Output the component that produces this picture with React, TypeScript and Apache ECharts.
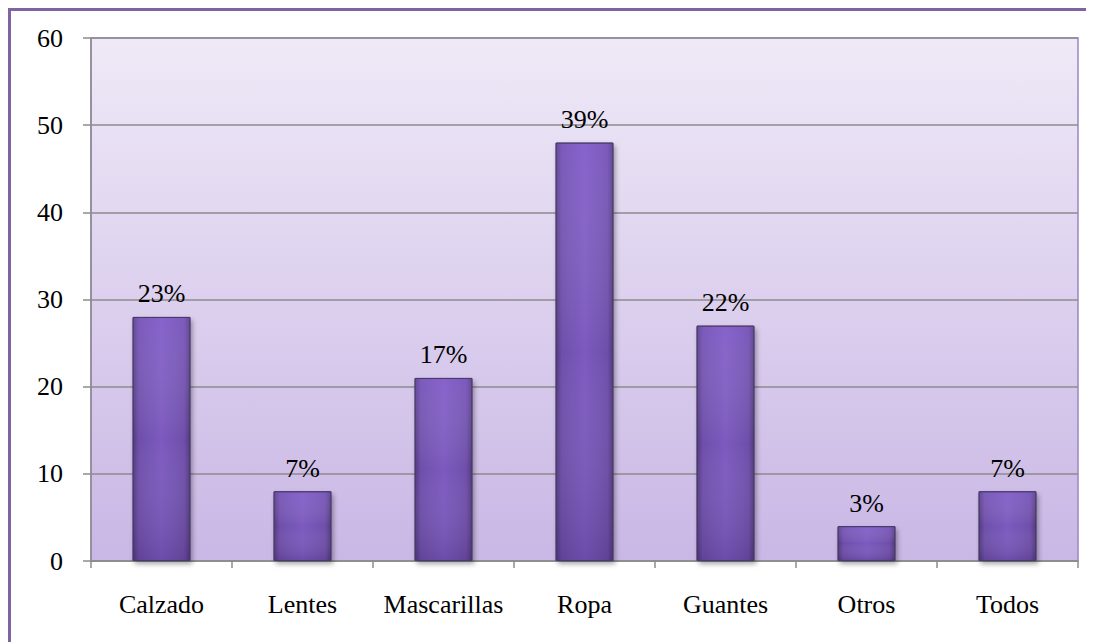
import React, { useEffect, useRef } from "react";
import * as echarts from "echarts";

const categories = ["Calzado", "Lentes", "Mascarillas", "Ropa", "Guantes", "Otros", "Todos"];
const values = [28, 8, 21, 48, 27, 4, 8];
const percentLabels = ["23%", "7%", "17%", "39%", "22%", "3%", "7%"];
const yMin = 0;
const yMax = 60;
const yInterval = 10;

export default function App() {
  const ref = useRef<HTMLDivElement>(null);

  useEffect(() => {
    document.documentElement.style.overflow = "hidden";
    document.body.style.overflow = "hidden";
    if (!ref.current) return;
    const chart = echarts.init(ref.current, undefined, { renderer: "svg" });
    const font = "Liberation Serif";
    chart.setOption({
      animation: false,
      backgroundColor: "#ffffff",
      textStyle: { fontFamily: font },
      grid: {
        left: 83,
        top: 30,
        right: 30,
        bottom: 81,
        show: true,
        borderColor: "#9A86C2",
        borderWidth: 1.5,
        backgroundColor: new echarts.graphic.LinearGradient(0, 0, 0, 1, [
          { offset: 0, color: "#EFE9F7" },
          { offset: 1, color: "#C9B7E5" },
        ]),
      },
      graphic: [
        {
          type: "rect",
          silent: true,
          shape: { x: 1.5, y: 1.5, width: 3000, height: 3000 },
          style: { fill: "none", stroke: "#8064A2", lineWidth: 3 },
          z: 100,
        },
      ],
      xAxis: {
        type: "category",
        data: categories,
        axisLine: { show: true, lineStyle: { color: "#8C8C8C", width: 1.5 } },
        axisTick: { show: true, alignWithLabel: false, length: 7, lineStyle: { color: "#8C8C8C", width: 1.5 } },
        axisLabel: { color: "#000", fontSize: 26, fontFamily: font, margin: 30, interval: 0 },
      },
      yAxis: {
        type: "value",
        min: yMin,
        max: yMax,
        interval: yInterval,
        axisLine: { show: true, lineStyle: { color: "#8C8C8C", width: 1.5 } },
        axisTick: { show: true, length: 8, lineStyle: { color: "#8C8C8C", width: 1.5 } },
        axisLabel: { color: "#000", fontSize: 26, fontFamily: font, margin: 28 },
        splitLine: { show: true, lineStyle: { color: "#8C8C8C", width: 1.5 } },
      },
      series: [
        {
          type: "bar",
          data: values,
          barWidth: "41%",
          z: 2,
          itemStyle: {
            color: new echarts.graphic.LinearGradient(1, 0, 0, 0, [
              { offset: 0, color: "#523A80" },
              { offset: 0.1, color: "#6E4FAA" },
              { offset: 0.5, color: "#7C5ABF" },
              { offset: 0.9, color: "#6E4FAA" },
              { offset: 1, color: "#523A80" },
            ]),
            borderColor: "#4A3A6A",
            borderWidth: 1,
            shadowColor: "rgba(0,0,0,0.35)",
            shadowBlur: 5,
            shadowOffsetX: 2,
            shadowOffsetY: 3,
          },
          label: {
            show: true,
            position: "top",
            distance: 10,
            color: "#000",
            fontSize: 26,
            fontFamily: font,
            formatter: (p: any) => percentLabels[p.dataIndex],
          },
        },
        {
          type: "bar",
          data: values,
          barWidth: "41%",
          barGap: "-100%",
          silent: true,
          z: 3,
          itemStyle: {
            color: new echarts.graphic.LinearGradient(0, 0, 0, 1, [
              { offset: 0, color: "rgba(170,130,250,0.22)" },
              { offset: 0.5, color: "rgba(255,255,255,0)" },
              { offset: 1, color: "rgba(25,5,55,0.16)" },
            ]),
            borderColor: "#4A3A6A",
            borderWidth: 1,
          },
          label: { show: false },
        },
      ],
    });
    return () => chart.dispose();
  }, []);

  return <div ref={ref} style={{ width: 1100, height: 634 }} />;
}
